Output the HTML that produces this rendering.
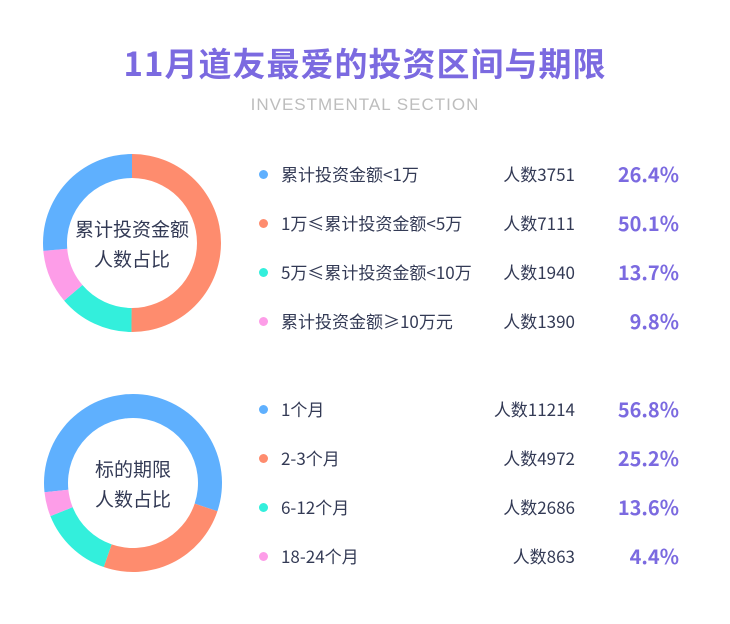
<!DOCTYPE html>
<html><head><meta charset="utf-8">
<style>
body{margin:0;width:730px;height:624px;background:#fff;overflow:hidden;font-family:"Noto Sans CJK SC","Liberation Sans",sans-serif;}
#root{position:relative;width:730px;height:624px;}
.title{position:absolute;left:0;width:730px;top:40px;line-height:44px;text-align:center;font-size:33px;font-weight:bold;color:#7b6ae0;letter-spacing:1px;}
.sub{position:absolute;left:0;width:730px;top:93px;line-height:24px;text-align:center;font-size:17px;color:#bdbdbd;letter-spacing:1px;font-family:"Liberation Sans",sans-serif;}
.row{position:absolute;left:0;width:730px;height:24px;line-height:24px;color:#333a55;font-size:17px;}
.dot{position:absolute;left:259px;top:8px;width:9px;height:9px;border-radius:50%;}
.lab{position:absolute;left:281px;top:0;white-space:nowrap;}
.cnt{position:absolute;right:155px;top:0;white-space:nowrap;}
.pct{position:absolute;right:51px;top:0;font-size:20px;font-weight:bold;color:#7b6ae0;}
</style></head><body>
<div id="root">
<div class="title">11月道友最爱的投资区间与期限</div>
<div class="sub">INVESTMENTAL SECTION</div>
<svg id="chart" width="730" height="624" style="position:absolute;left:0;top:0"></svg>
</div>
<script>
const colors=['#5fb0fe','#fe8c6e','#33efdc','#fd9de8'];
const labels1=['累计投资金额<1万','1万≤累计投资金额<5万','5万≤累计投资金额<10万','累计投资金额≥10万元'];
const counts1=[3751,7111,1940,1390];
const pcts1=[26.4,50.1,13.7,9.8];
const labels2=['1个月','2-3个月','6-12个月','18-24个月'];
const counts2=[11214,4972,2686,863];
const pcts2=[56.8,25.2,13.6,4.4];
const centers1=['累计投资金额','人数占比'];
const centers2=['标的期限','人数占比'];
const NS='http://www.w3.org/2000/svg';
const svg=document.getElementById('chart');
const root=document.getElementById('root');
function arc(cx,cy,r0,r1,a0,a1){
  const p=(r,a)=>[cx+r*Math.sin(a*Math.PI/180),cy-r*Math.cos(a*Math.PI/180)];
  const large=(a1-a0)>180?1:0;
  const [x0,y0]=p(r1,a0),[x1,y1]=p(r1,a1),[x2,y2]=p(r0,a1),[x3,y3]=p(r0,a0);
  return `M${x0},${y0}A${r1},${r1} 0 ${large} 1 ${x1},${y1}L${x2},${y2}A${r0},${r0} 0 ${large} 0 ${x3},${y3}Z`;
}
function donut(cx,cy,pcts,order,start,centerText,tag){
  const tot=pcts.reduce((a,b)=>a+b,0);
  let a=start;
  order.forEach(i=>{
    const sweep=pcts[i]/tot*360;
    const path=document.createElementNS(NS,'path');
    path.setAttribute('d',arc(cx,cy,65,89,a,a+sweep));
    path.setAttribute('fill',colors[i]);
    
    
    svg.appendChild(path);
    a+=sweep;
  });
  centerText.forEach((t,k)=>{
    const tx=document.createElementNS(NS,'text');
    tx.setAttribute('x',cx);tx.setAttribute('y',cy-7+k*30);
    tx.setAttribute('text-anchor','middle');tx.setAttribute('font-size','19');
    tx.setAttribute('fill','#333a55');
    tx.setAttribute('font-family','"Noto Sans CJK SC","Liberation Sans",sans-serif');
    tx.textContent=t;
    
    
    svg.appendChild(tx);
  });
}
function legend(labels,counts,pcts,y0,tag){
  labels.forEach((l,i)=>{
    const r=document.createElement('div');
    r.className='row';r.style.top=(y0+i*49)+'px';
    
    
    r.innerHTML=`<div class="dot" style="background:${colors[i]}"></div><span class="lab">${l.replace(/</g,'&lt;')}</span><span class="cnt">人数${counts[i]}</span><span class="pct">${pcts[i].toFixed(1)}%</span>`;
    root.appendChild(r);
  });
}
donut(132,243,pcts1,[1,2,3,0],0,centers1,'amount');
donut(133,483,pcts2,[0,1,2,3],-96,centers2,'term');
legend(labels1,counts1,pcts1,162,'amount');
legend(labels2,counts2,pcts2,397,'term');
</script>
</body></html>
